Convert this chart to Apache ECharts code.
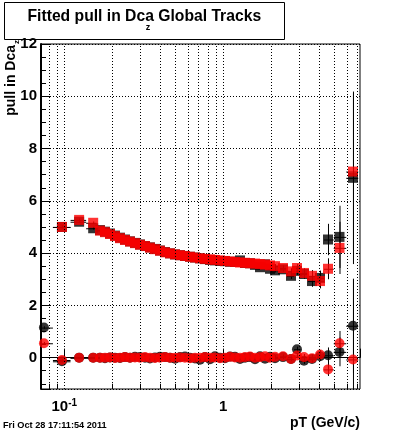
<!DOCTYPE html>
<html><head><meta charset="utf-8">
<script src="https://cdn.jsdelivr.net/npm/echarts@6/dist/echarts.min.js"></script>
<style>html,body{margin:0;padding:0;background:#fff}#c{width:400px;height:433px}</style>
</head><body><div id="c"></div>
<script>
// pT bin centres (GeV/c)
const pt = [0.0745, 0.0967, 0.124, 0.152,
  0.1677, 0.1803, 0.1939, 0.2085, 0.2242, 0.2409, 0.2590, 0.2784, 0.2994, 0.3218,
  0.3459, 0.3720, 0.3999, 0.4299, 0.4622, 0.4970, 0.5343, 0.5742, 0.6175, 0.6638,
  0.7137, 0.7674, 0.8250, 0.8866, 0.9534, 1.0249, 1.1020, 1.1846, 1.2737, 1.3693,
  1.4723, 1.5828, 1.7018, 1.8296, 1.9671, 2.1148,
  2.3739, 2.6659, 2.9075, 3.2183, 3.6138, 4.0581,
  4.555, 5.38, 6.54];
// sigma of pull (squares)
const sigmaBlack = [null, 5.0, 5.2, 4.95,
  4.88, 4.82, 4.75, 4.67, 4.59, 4.52, 4.45, 4.39, 4.33, 4.27,
  4.22, 4.16, 4.10, 4.04, 3.99, 3.95, 3.92, 3.89, 3.86, 3.83,
  3.80, 3.77, 3.74, 3.72, 3.70, 3.69, 3.67, 3.66, 3.72, 3.62,
  3.61, 3.55, 3.46, 3.57, 3.40, 3.34,
  3.38, 3.13, 3.32, 3.20, 2.93, 3.05,
  4.52, 4.62, 6.88];
const sigmaBlackErr = [0, 0.05, 0.05, 0.05,
  0.03, 0.03, 0.03, 0.03, 0.03, 0.03, 0.03, 0.03, 0.03, 0.03,
  0.03, 0.03, 0.03, 0.03, 0.03, 0.03, 0.03, 0.03, 0.03, 0.03,
  0.03, 0.03, 0.03, 0.03, 0.03, 0.04, 0.04, 0.04, 0.04, 0.05,
  0.05, 0.05, 0.06, 0.06, 0.07, 0.08,
  0.10, 0.12, 0.15, 0.18, 0.22, 0.28,
  0.6, 1.19, 3.3];
const sigmaRed = [null, 5.0, 5.27, 5.16,
  4.86, 4.80, 4.73, 4.65, 4.57, 4.50, 4.44, 4.38, 4.32, 4.27,
  4.21, 4.15, 4.09, 4.03, 3.99, 3.95, 3.92, 3.89, 3.86, 3.83,
  3.80, 3.78, 3.76, 3.74, 3.72, 3.70, 3.68, 3.66, 3.64, 3.63,
  3.61, 3.60, 3.58, 3.56, 3.53, 3.50,
  3.43, 3.30, 3.43, 3.24, 3.13, 2.93,
  3.40, 4.20, 7.12];
const sigmaRedErr = [0, 0.05, 0.05, 0.05,
  0.03, 0.03, 0.03, 0.03, 0.03, 0.03, 0.03, 0.03, 0.03, 0.03,
  0.03, 0.03, 0.03, 0.03, 0.03, 0.03, 0.03, 0.03, 0.03, 0.03,
  0.03, 0.03, 0.03, 0.03, 0.03, 0.04, 0.04, 0.04, 0.04, 0.05,
  0.05, 0.05, 0.06, 0.06, 0.07, 0.08,
  0.10, 0.12, 0.15, 0.18, 0.22, 0.28,
  0.4, 1.0, 3.0];
// mean of pull (circles)
const meanBlack = [1.15, -0.14, 0.0, 0.0,
  0.0, -0.02, 0.01, 0.0, -0.01, 0.02, 0.0, 0.03, 0.02, 0.0,
  -0.03, 0.01, 0.03, 0.02, 0.0, -0.04, 0.02, 0.04, 0.0, -0.03,
  -0.08, 0.02, -0.06, 0.05, 0.0, -0.02, 0.04, 0.03, -0.05, 0.0,
  0.02, -0.06, 0.05, -0.04, 0.03, -0.02,
  0.02, -0.05, 0.32, -0.12, -0.05, 0.05,
  0.09, 0.22, 1.22];
const meanBlackErr = [0.05, 0.04, 0.02, 0.02,
  0.02, 0.02, 0.02, 0.02, 0.02, 0.02, 0.02, 0.02, 0.02, 0.02,
  0.02, 0.02, 0.02, 0.02, 0.02, 0.02, 0.02, 0.02, 0.02, 0.02,
  0.02, 0.02, 0.02, 0.02, 0.02, 0.03, 0.03, 0.03, 0.03, 0.03,
  0.04, 0.04, 0.04, 0.05, 0.05, 0.06,
  0.07, 0.08, 0.10, 0.12, 0.14, 0.17,
  0.3, 0.55, 1.8];
const meanRed = [0.55, -0.09, 0.0, 0.0,
  0.0, 0.0, 0.01, -0.01, 0.0, 0.02, 0.0, 0.01, 0.0, 0.02,
  0.0, -0.01, 0.0, 0.02, 0.0, 0.0, 0.01, 0.0, -0.02, 0.0,
  0.0, 0.02, 0.0, 0.01, -0.02, 0.0, 0.03, 0.01, 0.0, 0.02,
  0.04, 0.0, 0.02, 0.05, 0.0, 0.03,
  0.05, -0.05, 0.08, 0.02, -0.02, 0.12,
  -0.45, 0.55, -0.07];
const meanRedErr = [0.05, 0.04, 0.02, 0.02,
  0.02, 0.02, 0.02, 0.02, 0.02, 0.02, 0.02, 0.02, 0.02, 0.02,
  0.02, 0.02, 0.02, 0.02, 0.02, 0.02, 0.02, 0.02, 0.02, 0.02,
  0.02, 0.02, 0.02, 0.02, 0.02, 0.03, 0.03, 0.03, 0.03, 0.03,
  0.04, 0.04, 0.04, 0.05, 0.05, 0.06,
  0.07, 0.08, 0.10, 0.12, 0.14, 0.17,
  0.25, 0.47, 3.07];
// axis ticks
const xMajor = [0.1, 1];
const xMinor = [0.08, 0.09, 0.2, 0.3, 0.4, 0.5, 0.6, 0.7, 0.8, 0.9, 2, 3, 4, 5, 6, 7];
const yMin = -1.2, yMax = 12;
const xMin = 0.0714, xMax = 7.24;

const FONT = '"Liberation Sans", Arial, sans-serif';

function binEdges(i) {
  const c = pt[i];
  const lo = i > 0 ? Math.sqrt(pt[i - 1] * c) : c / 1.08;
  const hi = i < pt.length - 1 ? Math.sqrt(pt[i + 1] * c) : c * 1.08;
  return [lo, hi];
}
function errData(vals, errs) {
  const out = [];
  vals.forEach((v, i) => {
    if (v == null) return;
    const e = binEdges(i);
    out.push([pt[i], v, e[0], e[1], v - errs[i], v + errs[i]]);
  });
  return out;
}
function pts(vals) {
  const out = [];
  vals.forEach((v, i) => { if (v != null) out.push([pt[i], v]); });
  return out;
}
function errSeries(vals, errs) {
  return {
    type: 'custom', silent: true, clip: true,
    data: errData(vals, errs),
    renderItem: function (params, api) {
      const c = api.coord([api.value(0), api.value(1)]);
      const l = api.coord([api.value(2), api.value(1)]);
      const r = api.coord([api.value(3), api.value(1)]);
      const lo = api.coord([api.value(0), api.value(4)]);
      const hi = api.coord([api.value(0), api.value(5)]);
      const st = { stroke: '#000', lineWidth: 1 };
      return { type: 'group', children: [
        { type: 'line', shape: { x1: l[0], y1: c[1] + 0.5, x2: r[0], y2: c[1] + 0.5 }, style: st },
        { type: 'line', shape: { x1: c[0] + 0.5, y1: lo[1], x2: c[0] + 0.5, y2: hi[1] }, style: st }
      ] };
    }
  };
}
const gridLines = xMinor.concat(xMajor).map(v => ({ xAxis: v }));
const minorTickSegs = xMinor.map(v => [{ coord: [v, yMin] }, { coord: [v, yMin + 0.2] }]);

const chart = echarts.init(document.getElementById('c'), null, { renderer: 'canvas' });
chart.setOption({
  animation: false,
  backgroundColor: '#fff',
  grid: { left: 41, right: 40, top: 44, bottom: 44, show: true, borderColor: '#000', borderWidth: 1, backgroundColor: 'transparent' },
  xAxis: {
    type: 'log', logBase: 10, min: xMin, max: xMax,
    axisLine: { show: true, lineStyle: { color: '#000', width: 1 } },
    axisTick: { show: true, inside: true, length: 9, lineStyle: { color: '#000' } },
    splitLine: { show: false },
    axisLabel: {
      margin: 9, color: '#000', fontFamily: FONT, fontWeight: 'bold', fontSize: 15,
      showMinLabel: true, showMaxLabel: true,
      formatter: function (v) {
        if (Math.abs(v - 0.1) < 1e-9) return '{b|10}{s|-1}';
        if (Math.abs(v - 1) < 1e-9) return '{b|1}';
        return '';
      },
      rich: {
        b: { fontFamily: FONT, fontWeight: 'bold', fontSize: 15, color: '#000', lineHeight: 18 },
        s: { fontFamily: FONT, fontWeight: 'bold', fontSize: 10, color: '#000', verticalAlign: 'top', lineHeight: 18, padding: [0, 0, 10, 0] }
      }
    }
  },
  yAxis: {
    type: 'value', min: yMin, max: yMax, splitNumber: 6,
    axisLine: { show: true, lineStyle: { color: '#000', width: 2 } },
    axisTick: { show: true, inside: true, length: 9, lineStyle: { color: '#000' } },
    minorTick: { show: true, splitNumber: 4, length: 5, lineStyle: { color: '#000' } },
    splitLine: { show: true, lineStyle: { color: '#000', type: [1, 2], width: 1 } },
    axisLabel: {
      margin: 4, color: '#000', fontFamily: FONT, fontWeight: 'bold', fontSize: 15,
      formatter: function (v) { return (Math.abs(v - Math.round(v)) < 1e-9 && Math.round(v) % 2 === 0) ? String(Math.round(v)) : ''; }
    }
  },
  series: [
    {
      type: 'scatter', data: [], silent: true,
      markLine: {
        silent: true, symbol: 'none', label: { show: false }, animation: false,
        lineStyle: { color: '#000', type: [1, 2], width: 1 },
        data: gridLines
      }
    },
    {
      type: 'scatter', data: [], silent: true,
      markLine: {
        silent: true, symbol: 'none', label: { show: false }, animation: false,
        lineStyle: { color: '#000', type: 'solid', width: 1 },
        data: minorTickSegs
      }
    },
    errSeries(sigmaBlack, sigmaBlackErr),
    { type: 'scatter', symbol: 'rect', symbolSize: 10, itemStyle: { color: '#000' }, data: pts(sigmaBlack), silent: true },
    errSeries(meanBlack, meanBlackErr),
    { type: 'scatter', symbol: 'circle', symbolSize: 10, itemStyle: { color: '#000' }, data: pts(meanBlack), silent: true },
    errSeries(sigmaRed, sigmaRedErr),
    { type: 'scatter', symbol: 'rect', symbolSize: 10, itemStyle: { color: '#ff0000' }, data: pts(sigmaRed), silent: true },
    errSeries(meanRed, meanRedErr),
    { type: 'scatter', symbol: 'circle', symbolSize: 10, itemStyle: { color: '#ff0000' }, data: pts(meanRed), silent: true }
  ],
  graphic: [
    { type: 'rect', shape: { x: 4.5, y: 2.5, width: 280, height: 37 }, style: { fill: '#fff', stroke: '#000', lineWidth: 1 } },
    { type: 'text', x: 27.5, y: 17, style: { text: 'Fitted pull in Dca Global Tracks', font: 'bold 15.7px ' + FONT, fill: '#000', textAlign: 'left', textVerticalAlign: 'middle' } },
    { type: 'text', x: 148, y: 28, style: { text: 'z', font: 'bold 9px ' + FONT, fill: '#000', textAlign: 'center', textVerticalAlign: 'middle' } },
    { type: 'text', x: 18, y: 45, rotation: Math.PI / 2, style: { text: 'pull in Dca', font: 'bold 14px ' + FONT, fill: '#000', textAlign: 'right', textVerticalAlign: 'bottom' } },
    { type: 'text', x: 17, y: 42, rotation: Math.PI / 2, style: { text: 'z', font: 'bold 8px ' + FONT, fill: '#000', textAlign: 'center', textVerticalAlign: 'middle' } },
    { type: 'text', x: 360, y: 423, style: { text: 'pT (GeV/c)', font: 'bold 14px ' + FONT, fill: '#000', textAlign: 'right', textVerticalAlign: 'middle' } },
    { type: 'text', x: 3, y: 425, style: { text: 'Fri Oct 28 17:11:54 2011', font: 'bold 9.2px ' + FONT, fill: '#000', textAlign: 'left', textVerticalAlign: 'middle' } }
  ]
});
</script>
</body></html>
